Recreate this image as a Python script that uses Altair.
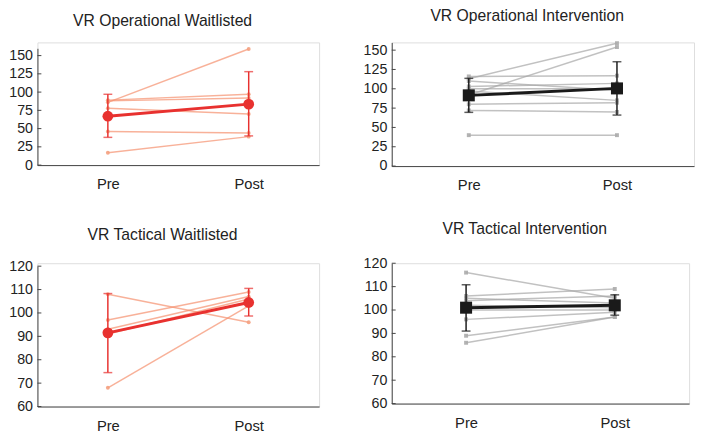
import altair as alt
import pandas as pd

times = ["Pre", "Post"]

# VR Operational Waitlisted
op_wait_pre = [86, 89, 88, 78, 46, 17]
op_wait_post = [159, 97, 92, 70, 44, 39]
op_wait_mean = [67, 83.5]
op_wait_lo = [38, 40]
op_wait_hi = [97, 128]

# VR Operational Intervention
op_int_pre = [113, 92, 116, 110, 103, 97, 100, 80, 72, 40]
op_int_post = [159, 154, 117, 98, 107, 85, 100, 82, 70, 40]
op_int_mean = [91.5, 100.5]
op_int_lo = [69.5, 66]
op_int_hi = [113.5, 135]

# VR Tactical Waitlisted
tac_wait_pre = [108, 97, 93, 91, 68]
tac_wait_post = [96, 109, 107, 106, 103]
tac_wait_mean = [91.5, 104.5]
tac_wait_lo = [74.5, 98.7]
tac_wait_hi = [108.3, 110.5]

# VR Tactical Intervention
tac_int_pre = [116, 106, 105, 104, 102, 101, 100, 96, 89, 86]
tac_int_post = [105, 109, 103, 106, 101, 102, 100, 99, 97, 97]
tac_int_mean = [101, 102]
tac_int_lo = [91, 97.8]
tac_int_hi = [110.8, 106.5]

op_ticks = [0, 25, 50, 75, 100, 125, 150]
tac_ticks = [60, 70, 80, 90, 100, 110, 120]

FONT = "Liberation Sans"
TXT = "#222222"
AX = "#444444"


def panel(title, pre, post, mean, lo, hi, ydom, yticks, w, h, top, pad,
          light, light_pt, dark, shape, msize, toff):
    rows = []
    for i, (a, b) in enumerate(zip(pre, post)):
        rows.append({"subject": i, "time": "Pre", "value": a})
        rows.append({"subject": i, "time": "Post", "value": b})
    ind = pd.DataFrame(rows)
    summ = pd.DataFrame({"time": times, "mean": mean, "lo": lo, "hi": hi})

    xenc = alt.X("time:N", sort=times,
                 scale=alt.Scale(type="point", padding=pad),
                 axis=alt.Axis(title=None, labelAngle=0, labelFontSize=15,
                               labelFont=FONT, labelColor=TXT, ticks=False,
                               tickSize=0, labelPadding=12, domainColor=AX,
                               domainWidth=1))
    yscale = alt.Scale(domain=ydom, nice=False, zero=False, range=[h, top])
    yaxis = alt.Axis(title=None, values=yticks, grid=False, ticks=False,
                     tickSize=0, labelPadding=5, labelFontSize=14.5,
                     labelFont=FONT, labelColor=TXT, domainColor=AX,
                     domainWidth=1)

    def Y(f):
        return alt.Y(f, scale=yscale, axis=yaxis)

    b_ind = alt.Chart(ind)
    lines = b_ind.mark_line(color=light, strokeWidth=1.5, opacity=0.7).encode(
        x=xenc, y=Y("value:Q"), detail="subject:N")
    pts = b_ind.mark_point(filled=True, shape=shape, size=16, color=light_pt,
                           opacity=0.9).encode(x=xenc, y=Y("value:Q"))
    bs = alt.Chart(summ)
    err = bs.mark_rule(color=dark, strokeWidth=1.5).encode(
        x=xenc, y=Y("lo:Q"), y2="hi:Q")
    cap_lo = bs.mark_tick(color=dark, size=9, thickness=1.5).encode(
        x=xenc, y=Y("lo:Q"))
    cap_hi = bs.mark_tick(color=dark, size=9, thickness=1.5).encode(
        x=xenc, y=Y("hi:Q"))
    mline = bs.mark_line(color=dark, strokeWidth=3).encode(x=xenc, y=Y("mean:Q"))
    mpts = bs.mark_point(filled=True, shape=shape, size=msize, color=dark,
                         opacity=1).encode(x=xenc, y=Y("mean:Q"))
    tk = alt.Chart(pd.DataFrame({"t": yticks})).mark_rule(
        color=AX, strokeWidth=1).encode(y=Y("t:Q"), x=alt.value(0),
                                        x2=alt.value(4))
    return alt.layer(lines, pts, err, cap_lo, cap_hi, mline, mpts, tk).properties(
        width=w, height=h,
        title=alt.TitleParams(title, offset=toff, dx=-16, fontSize=16,
                              font=FONT, fontWeight="normal", color=TXT))


RED_L = "#f5906e"
RED_P = "#f4a080"
RED = "#e8312f"
GRY_L = "#a6a6a6"
GRY_P = "#ababab"
BLK = "#1a1a1a"

p1 = panel("VR Operational Waitlisted", op_wait_pre, op_wait_post, op_wait_mean,
           op_wait_lo, op_wait_hi, [0, 160], op_ticks, 287, 125, 6, 0.5,
           RED_L, RED_P, RED, "circle", 120, 14)
p2 = panel("VR Operational Intervention", op_int_pre, op_int_post, op_int_mean,
           op_int_lo, op_int_hi, [0, 160], op_ticks, 308, 126, 0, 0.52,
           GRY_L, GRY_P, BLK, "square", 150, 17)
p3 = panel("VR Tactical Waitlisted", tac_wait_pre, tac_wait_post, tac_wait_mean,
           tac_wait_lo, tac_wait_hi, [60, 120], tac_ticks, 287, 146, 3, 0.5,
           RED_L, RED_P, RED, "circle", 120, 16)
p4 = panel("VR Tactical Intervention", tac_int_pre, tac_int_post, tac_int_mean,
           tac_int_lo, tac_int_hi, [60, 120], tac_ticks, 303, 143, 0, 0.5,
           GRY_L, GRY_P, BLK, "square", 150, 19)

row1 = alt.hconcat(p1, p2, spacing=43)
row2 = alt.hconcat(p3, p4, spacing=43)
chart = alt.vconcat(row1, row2, spacing=27).properties(
    padding={"top": -5, "left": 0, "right": 0, "bottom": 0}).configure_view(
    stroke=None).configure(background="white")

chart.save("out.html", embed_options={"renderer": "svg", "actions": False})
